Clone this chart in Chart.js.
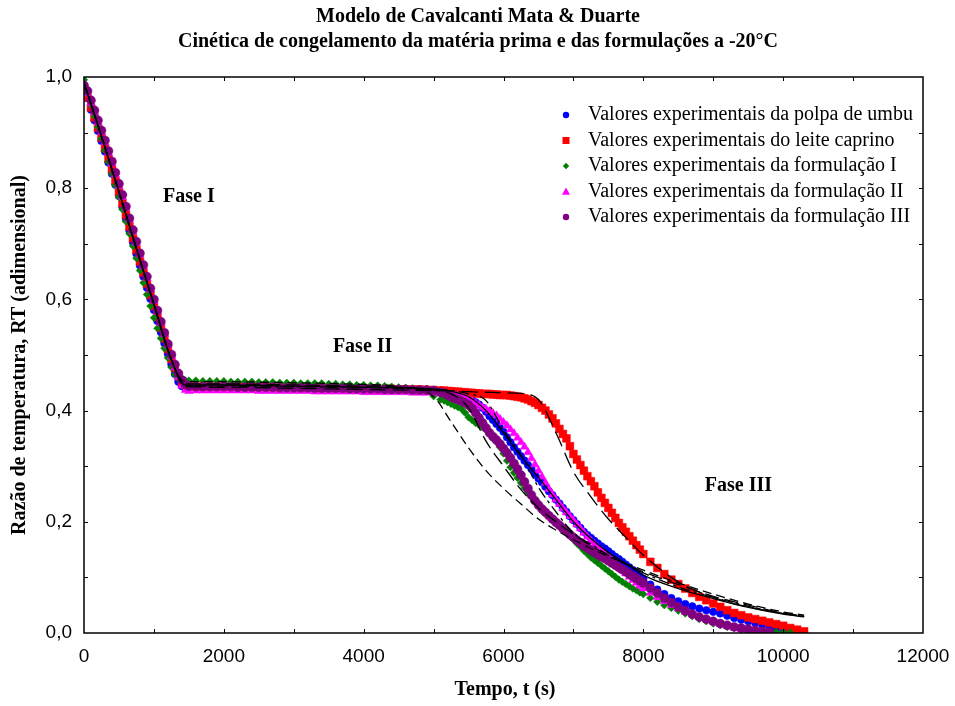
<!DOCTYPE html>
<html lang="pt">
<head>
    <meta charset="UTF-8">
    <title>Cinética de congelamento</title>
    <script src="https://cdn.jsdelivr.net/npm/chart.js"></script>
    <style>
        body { margin: 0; background: #fff; }
        #box { width: 955px; height: 706px; }
    </style>
</head>
<body>
    <div id="box"><canvas id="cineticaChart" width="955" height="706"></canvas></div>

    <script>
        // tempo (s) comum a todas as séries experimentais
        const tempo = [
            0, 50, 100, 150, 200, 250, 300, 350, 400, 450, 500, 550, 600, 650, 700, 750,
            800, 850, 900, 950, 1000, 1050, 1100, 1150, 1200, 1250, 1300, 1350, 1400, 1450, 1500,
            1600, 1700, 1800, 1900, 2000, 2100, 2200, 2300, 2400, 2500, 2600, 2700, 2800, 2900,
            3000, 3100, 3200, 3300, 3400, 3500, 3600, 3700, 3800, 3900, 4000, 4100, 4200, 4300,
            4400, 4500, 4600, 4700, 4800, 4900, 5000,
            5100, 5150, 5200, 5250, 5300, 5350, 5400, 5450, 5500, 5550, 5600, 5650, 5700, 5750,
            5800, 5850, 5900, 5950, 6000, 6050, 6100, 6150, 6200, 6250, 6300, 6350, 6400, 6450,
            6500, 6550, 6600, 6650, 6700, 6750, 6800, 6850, 6900, 6950, 7000, 7050, 7100, 7150,
            7200, 7250, 7300, 7350, 7400, 7450, 7500, 7550, 7600, 7650, 7700, 7750, 7800, 7850,
            7900, 7950, 8000,
            8100, 8200, 8300, 8400, 8500, 8600, 8700, 8800, 8900, 9000, 9100, 9200,
            9300, 9400, 9500, 9600, 9700, 9800, 9900, 10000, 10100, 10200, 10300
        ];

        const polpaUmbu = [
            0.980, 0.962, 0.941, 0.922, 0.903, 0.885, 0.866, 0.846, 0.826, 0.806, 0.786, 0.766, 0.745, 0.724, 0.703, 0.682,
            0.661, 0.641, 0.621, 0.601, 0.581, 0.561, 0.541, 0.521, 0.502, 0.483, 0.466, 0.452, 0.444, 0.441, 0.442,
            0.444, 0.444, 0.444, 0.444, 0.444, 0.444, 0.444, 0.443, 0.443, 0.443, 0.443, 0.443, 0.443, 0.442,
            0.442, 0.442, 0.442, 0.442, 0.442, 0.441, 0.441, 0.441, 0.441, 0.441, 0.440, 0.440, 0.440, 0.440,
            0.439, 0.439, 0.439, 0.438, 0.438, 0.438, 0.437,
            0.436, 0.435, 0.434, 0.432, 0.430, 0.428, 0.425, 0.423, 0.420, 0.418, 0.415, 0.411, 0.405, 0.398,
            0.390, 0.383, 0.376, 0.369, 0.362, 0.352, 0.343, 0.334, 0.326, 0.318, 0.310, 0.302, 0.295, 0.286,
            0.278, 0.271, 0.263, 0.255, 0.248, 0.240, 0.233, 0.225, 0.218, 0.210, 0.203, 0.196, 0.189, 0.182,
            0.176, 0.171, 0.166, 0.161, 0.156, 0.152, 0.147, 0.142, 0.137, 0.133, 0.128, 0.123, 0.118, 0.113,
            0.108, 0.102, 0.097,
            0.087, 0.078, 0.070, 0.063, 0.057, 0.052, 0.048, 0.044, 0.041, 0.038, 0.035, 0.031,
            0.027, 0.024, 0.021, 0.018, 0.015, 0.012, 0.009, 0.006, 0.004, 0.002, 0.001
        ];

        const leiteCaprino = [
            0.978, 0.963, 0.945, 0.927, 0.909, 0.891, 0.872, 0.853, 0.833, 0.813, 0.793, 0.773, 0.752, 0.731, 0.710, 0.689,
            0.668, 0.648, 0.628, 0.608, 0.588, 0.568, 0.549, 0.530, 0.511, 0.493, 0.477, 0.463, 0.452, 0.446, 0.444,
            0.443, 0.443, 0.443, 0.443, 0.443, 0.443, 0.443, 0.443, 0.442, 0.442, 0.442, 0.442, 0.442, 0.442,
            0.442, 0.441, 0.441, 0.441, 0.441, 0.441, 0.440, 0.440, 0.440, 0.440, 0.440, 0.439, 0.439, 0.439,
            0.439, 0.438, 0.438, 0.438, 0.438, 0.437, 0.437,
            0.436, 0.436, 0.435, 0.435, 0.434, 0.434, 0.433, 0.433, 0.432, 0.432, 0.431, 0.431, 0.430, 0.430,
            0.430, 0.429, 0.429, 0.428, 0.428, 0.428, 0.427, 0.426, 0.425, 0.424, 0.422, 0.420, 0.417, 0.414,
            0.410, 0.405, 0.400, 0.393, 0.386, 0.377, 0.367, 0.358, 0.350, 0.336, 0.322, 0.312, 0.302, 0.292,
            0.282, 0.273, 0.264, 0.253, 0.243, 0.234, 0.225, 0.216, 0.207, 0.198, 0.190, 0.182, 0.174, 0.166,
            0.158, 0.150, 0.142,
            0.128, 0.117, 0.106, 0.096, 0.088, 0.080, 0.072, 0.065, 0.059, 0.053, 0.047, 0.041,
            0.036, 0.032, 0.028, 0.025, 0.022, 0.019, 0.016, 0.013, 0.009, 0.006, 0.003
        ];

        const formulacaoI = [
            0.995, 0.972, 0.950, 0.930, 0.910, 0.889, 0.868, 0.847, 0.826, 0.805, 0.784, 0.762, 0.740, 0.718, 0.696, 0.674,
            0.652, 0.630, 0.609, 0.588, 0.567, 0.548, 0.530, 0.512, 0.495, 0.478, 0.465, 0.457, 0.455, 0.454, 0.454,
            0.454, 0.453, 0.453, 0.453, 0.453, 0.452, 0.452, 0.452, 0.452, 0.451, 0.451, 0.451, 0.450, 0.450,
            0.450, 0.449, 0.449, 0.449, 0.449, 0.448, 0.448, 0.447, 0.447, 0.446, 0.446, 0.445, 0.445, 0.444,
            0.443, 0.442, 0.441, 0.440, 0.438, 0.434, 0.426,
            0.420, 0.418, 0.415, 0.412, 0.409, 0.406, 0.403, 0.396, 0.388, 0.383, 0.378, 0.374, 0.370, 0.365,
            0.360, 0.352, 0.344, 0.334, 0.323, 0.310, 0.298, 0.288, 0.279, 0.270, 0.261, 0.253, 0.246, 0.239,
            0.232, 0.225, 0.218, 0.211, 0.205, 0.198, 0.192, 0.186, 0.180, 0.174, 0.168, 0.161, 0.155, 0.148,
            0.142, 0.136, 0.131, 0.126, 0.121, 0.116, 0.111, 0.106, 0.101, 0.096, 0.092, 0.088, 0.084, 0.080,
            0.077, 0.073, 0.070,
            0.063, 0.056, 0.050, 0.045, 0.040, 0.035, 0.030, 0.025, 0.021, 0.017, 0.014, 0.011,
            0.009, 0.007, 0.005, 0.004, 0.003, 0.002, 0.002, 0.001, 0.001, null, null
        ];

        const formulacaoII = [
            0.985, 0.970, 0.953, 0.936, 0.918, 0.900, 0.882, 0.863, 0.844, 0.824, 0.804, 0.784, 0.764, 0.743, 0.722, 0.701,
            0.680, 0.659, 0.638, 0.617, 0.597, 0.577, 0.557, 0.537, 0.517, 0.497, 0.478, 0.460, 0.445, 0.437, 0.435,
            0.436, 0.436, 0.436, 0.436, 0.436, 0.436, 0.436, 0.436, 0.436, 0.435, 0.435, 0.435, 0.435, 0.435,
            0.435, 0.435, 0.435, 0.434, 0.434, 0.434, 0.434, 0.434, 0.434, 0.434, 0.433, 0.433, 0.433, 0.433,
            0.433, 0.433, 0.433, 0.432, 0.432, 0.432, 0.432,
            0.431, 0.431, 0.430, 0.429, 0.428, 0.427, 0.425, 0.423, 0.420, 0.417, 0.413, 0.410, 0.406, 0.403,
            0.399, 0.395, 0.391, 0.385, 0.379, 0.373, 0.366, 0.359, 0.351, 0.343, 0.335, 0.325, 0.314, 0.303,
            0.292, 0.281, 0.270, 0.259, 0.249, 0.240, 0.232, 0.224, 0.217, 0.210, 0.203, 0.195, 0.188, 0.180,
            0.173, 0.166, 0.160, 0.154, 0.148, 0.142, 0.137, 0.131, 0.125, 0.119, 0.113, 0.107, 0.101, 0.095,
            0.090, 0.085, 0.080,
            0.072, 0.064, 0.057, 0.050, 0.044, 0.038, 0.033, 0.028, 0.024, 0.020, 0.016, 0.012,
            0.009, 0.006, 0.004, 0.002, 0.001, 0.000, null, null, null, null, null
        ];

        const formulacaoIII = [
            0.985, 0.975, 0.958, 0.940, 0.922, 0.904, 0.886, 0.867, 0.848, 0.828, 0.808, 0.788, 0.767, 0.746, 0.725, 0.704,
            0.683, 0.662, 0.641, 0.620, 0.600, 0.580, 0.560, 0.540, 0.520, 0.501, 0.483, 0.467, 0.455, 0.447, 0.444,
            0.443, 0.443, 0.443, 0.443, 0.443, 0.443, 0.442, 0.442, 0.442, 0.442, 0.442, 0.442, 0.441, 0.441,
            0.441, 0.441, 0.441, 0.440, 0.440, 0.440, 0.440, 0.440, 0.439, 0.439, 0.439, 0.439, 0.439, 0.438,
            0.438, 0.438, 0.438, 0.437, 0.437, 0.437, 0.436,
            0.433, 0.431, 0.428, 0.425, 0.422, 0.420, 0.417, 0.414, 0.410, 0.404, 0.396, 0.387, 0.378, 0.369,
            0.360, 0.353, 0.347, 0.340, 0.332, 0.324, 0.315, 0.305, 0.295, 0.284, 0.272, 0.260, 0.248, 0.238,
            0.230, 0.223, 0.217, 0.211, 0.205, 0.199, 0.194, 0.188, 0.183, 0.177, 0.172, 0.167, 0.162, 0.157,
            0.153, 0.149, 0.145, 0.141, 0.137, 0.134, 0.130, 0.126, 0.122, 0.118, 0.114, 0.110, 0.106, 0.102,
            0.098, 0.094, 0.090,
            0.081, 0.072, 0.063, 0.055, 0.047, 0.040, 0.034, 0.029, 0.025, 0.021, 0.017, 0.014,
            0.011, 0.009, 0.007, 0.005, 0.003, 0.002, null, null, null, null, null
        ];

        // curvas do modelo de Cavalcanti Mata & Duarte
        const modeloTempo = [
            0, 250, 500, 750, 1000, 1250, 1450, 2000, 3000, 4000, 4500, 5000, 5250, 5500, 5750,
            6000, 6250, 6500, 6750, 7000, 7250, 7500, 7750, 8000, 8500, 9000, 9500, 10000, 10300
        ];
        const modeloFormI = [
            0.990, 0.892, 0.792, 0.690, 0.590, 0.490, 0.452, 0.452, 0.450, 0.447, 0.443, 0.425, 0.380, 0.333, 0.292,
            0.260, 0.232, 0.205, 0.185, 0.168, 0.152, 0.138, 0.125, 0.113, 0.090, 0.070, 0.052, 0.038, 0.032
        ];
        const modeloFormIII = [
            0.990, 0.894, 0.794, 0.692, 0.592, 0.492, 0.448, 0.448, 0.446, 0.444, 0.442, 0.437, 0.430, 0.405, 0.345,
            0.300, 0.258, 0.225, 0.200, 0.178, 0.157, 0.140, 0.124, 0.110, 0.087, 0.066, 0.050, 0.036, 0.030
        ];
        const modeloFormII = [
            0.990, 0.893, 0.793, 0.691, 0.591, 0.491, 0.445, 0.444, 0.443, 0.441, 0.440, 0.438, 0.436, 0.430, 0.418,
            0.365, 0.320, 0.262, 0.218, 0.180, 0.160, 0.140, 0.124, 0.108, 0.083, 0.064, 0.048, 0.035, 0.030
        ];
        const modeloLeite = [
            0.990, 0.893, 0.793, 0.691, 0.591, 0.491, 0.443, 0.442, 0.440, 0.438, 0.437, 0.436, 0.435, 0.434, 0.433,
            0.432, 0.431, 0.420, 0.360, 0.290, 0.245, 0.205, 0.172, 0.140, 0.092, 0.064, 0.047, 0.035, 0.030
        ];
        const modeloPolpa = [
            0.990, 0.894, 0.794, 0.692, 0.592, 0.492, 0.446, 0.446, 0.444, 0.442, 0.441, 0.439, 0.435, 0.425, 0.400,
            0.360, 0.318, 0.280, 0.240, 0.200, 0.170, 0.145, 0.125, 0.104, 0.080, 0.062, 0.046, 0.034, 0.029
        ];

        const legendas = [
            'Valores experimentais da polpa de umbu',
            'Valores experimentais do leite caprino',
            'Valores experimentais da formulação I',
            'Valores experimentais da formulação II',
            'Valores experimentais da formulação III'
        ];
        const fases = [
            { texto: 'Fase I', t: 1130, rt: 0.784 },
            { texto: 'Fase II', t: 3560, rt: 0.514 },
            { texto: 'Fase III', t: 8880, rt: 0.264 }
        ];

        const serif = '"Liberation Serif", "Times New Roman", serif';
        const sans = '"Liberation Sans", Arial, sans-serif';

        function pontos(ys) {
            return tempo.map((t, i) => ({ x: t, y: ys[i] })).filter(p => p.y !== null && p.y !== undefined);
        }
        function modelo(ys) {
            return modeloTempo.map((t, i) => ({ x: t, y: ys[i] }));
        }

        function serie(label, ys, cor, estilo, raio, ordem) {
            return {
                label: label,
                data: pontos(ys),
                showLine: false,
                pointStyle: estilo,
                pointRadius: raio,
                pointBackgroundColor: cor,
                pointBorderColor: cor,
                pointBorderWidth: 0.5,
                order: ordem
            };
        }
        function curva(ys, tracejado) {
            return {
                label: '',
                data: modelo(ys),
                showLine: true,
                borderColor: '#000',
                borderWidth: 1.3,
                borderDash: tracejado,
                pointRadius: 0,
                cubicInterpolationMode: 'monotone',
                order: 0
            };
        }

        const series = [
            serie(legendas[0], polpaUmbu, '#0000ff', 'circle', 3.8, 5),
            serie(legendas[1], leiteCaprino, '#ff0000', 'rect', 5.5, 4),
            serie(legendas[2], formulacaoI, '#008000', 'rectRot', 3.8, 3),
            serie(legendas[3], formulacaoII, '#ff00ff', 'triangle', 4.8, 2),
            serie(legendas[4], formulacaoIII, '#800080', 'circle', 4.5, 1)
        ];
        const curvas = [
            curva(modeloFormI, [9, 5]),
            curva(modeloFormIII, [14, 6]),
            curva(modeloFormII, [11, 4, 3, 4]),
            curva(modeloLeite, [16, 7]),
            curva(modeloPolpa, [])
        ];

        // marcador da legenda desenhado à mão
        function marcador(ctx, estilo, x, y, r, cor) {
            ctx.save();
            ctx.fillStyle = cor;
            ctx.beginPath();
            if (estilo === 'circle') {
                ctx.arc(x, y, r, 0, Math.PI * 2);
            } else if (estilo === 'rect') {
                ctx.rect(x - r, y - r, 2 * r, 2 * r);
            } else if (estilo === 'rectRot') {
                ctx.moveTo(x, y - r); ctx.lineTo(x + r, y); ctx.lineTo(x, y + r); ctx.lineTo(x - r, y);
            } else if (estilo === 'triangle') {
                ctx.moveTo(x, y - r); ctx.lineTo(x + r, y + r * 0.8); ctx.lineTo(x - r, y + r * 0.8);
            }
            ctx.closePath();
            ctx.fill();
            ctx.restore();
        }

        const moldura = {
            id: 'moldura',
            afterDatasetsDraw(chart) {
                const ctx = chart.ctx;
                const a = chart.chartArea;
                const xs = chart.scales.x, ys = chart.scales.y;
                ctx.save();
                ctx.strokeStyle = '#000';
                ctx.lineWidth = 1.5;
                ctx.strokeRect(a.left, a.top, a.right - a.left, a.bottom - a.top);

                // marcas internas
                ctx.lineWidth = 1;
                ctx.beginPath();
                for (let v = 1000; v < 12000; v += 1000) {
                    const px = Math.round(xs.getPixelForValue(v)) + 0.5;
                    ctx.moveTo(px, a.bottom); ctx.lineTo(px, a.bottom - 4);
                    ctx.moveTo(px, a.top); ctx.lineTo(px, a.top + 4);
                }
                for (let k = 1; k < 10; k++) {
                    const py = Math.round(ys.getPixelForValue(k / 10)) + 0.5;
                    ctx.moveTo(a.left, py); ctx.lineTo(a.left + 4, py);
                    ctx.moveTo(a.right, py); ctx.lineTo(a.right - 4, py);
                }
                ctx.stroke();

                // rótulos das fases
                ctx.fillStyle = '#000';
                ctx.font = 'bold 20px ' + serif;
                ctx.textAlign = 'left';
                ctx.textBaseline = 'middle';
                fases.forEach(f => {
                    ctx.fillText(f.texto, xs.getPixelForValue(f.t), ys.getPixelForValue(f.rt));
                });

                // legenda
                ctx.font = '20px ' + serif;
                series.forEach((s, i) => {
                    const y = 115 + i * 25.5;
                    const r = s.pointStyle === 'rect' ? 3.5 : s.pointStyle === 'triangle' ? 4 : 3.2;
                    marcador(ctx, s.pointStyle, 566, y, r, s.pointBackgroundColor);
                    ctx.fillText(s.label, 588, y);
                });

                // títulos
                ctx.textAlign = 'center';
                ctx.font = 'bold 20px ' + serif;
                ctx.fillText('Modelo de Cavalcanti Mata & Duarte', 478, 17);
                ctx.fillText('Cinética de congelamento da matéria prima e das formulações a -20°C', 478, 42);
                ctx.fillText('Tempo, t (s)', 505, 690);
                ctx.translate(20, 355);
                ctx.rotate(-Math.PI / 2);
                ctx.fillText('Razão de temperatura, RT (adimensional)', 0, 0);
                ctx.restore();
            }
        };

        const ctx = document.getElementById('cineticaChart').getContext('2d');
        const cineticaChart = new Chart(ctx, {
            type: 'scatter',
            data: { datasets: curvas.concat(series) },
            options: {
                responsive: false,
                animation: false,
                events: [],
                layout: { padding: { top: 77, right: 32, left: 0, bottom: 0 } },
                plugins: {
                    legend: { display: false },
                    tooltip: { enabled: false },
                    title: { display: false }
                },
                scales: {
                    x: {
                        type: 'linear',
                        min: 0,
                        max: 12000,
                        afterFit: (scale) => {
                            scale.height = 73;
                            scale.paddingLeft = 0;
                            scale.paddingRight = 0;
                        },
                        grid: { display: false, drawTicks: false },
                        border: { display: false },
                        ticks: {
                            stepSize: 2000,
                            padding: 12,
                            color: '#000',
                            font: { family: sans, size: 19 },
                            callback: (v) => String(v)
                        }
                    },
                    y: {
                        min: 0,
                        max: 1,
                        afterFit: (scale) => {
                            scale.width = 84;
                            scale.paddingTop = 0;
                            scale.paddingBottom = 0;
                        },
                        grid: { display: false, drawTicks: false },
                        border: { display: false },
                        ticks: {
                            stepSize: 0.2,
                            padding: 12,
                            color: '#000',
                            font: { family: sans, size: 19 },
                            callback: (v) => v.toFixed(1).replace('.', ',')
                        }
                    }
                }
            },
            plugins: [moldura]
        });
    </script>
</body>
</html>
